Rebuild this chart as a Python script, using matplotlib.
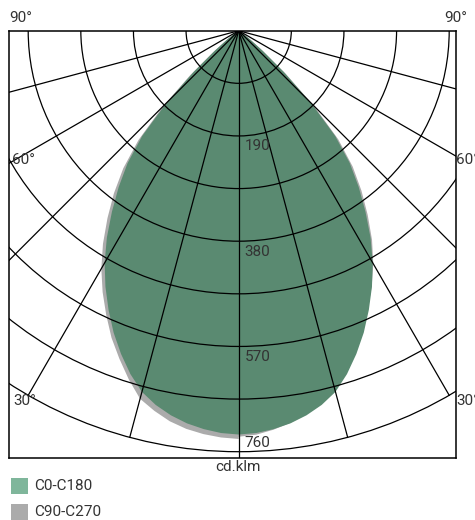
import numpy as np
import matplotlib
matplotlib.use('Agg')
import matplotlib.pyplot as plt
from matplotlib.patches import Circle, Polygon, Rectangle

plt.rcParams['font.family'] = ['Roboto', 'DejaVu Sans']

# photometric data, cd/klm against gamma angle (deg), 2.5 deg steps
gamma = [0, 2.5, 5, 7.5, 10, 12.5, 15, 17.5, 20, 22.5, 25, 27.5, 30, 32.5, 35, 37.5,
         40, 42.5, 45, 47.5, 50, 52.5, 55, 57.5, 60, 62.5, 65, 67.5, 70, 72.5, 75,
         77.5, 80, 82.5, 85, 87.5, 90]
c0_c180 = [729, 727, 722, 715, 705, 692, 675, 650, 621, 590, 556, 521, 484, 443, 399, 356,
           312, 258, 185, 110, 55, 25, 12, 6, 3, 1, 0, 0, 0, 0, 0,
           0, 0, 0, 0, 0, 0]
c90 = [733, 730, 723, 714, 703, 689, 671, 646, 617, 586, 553, 520, 486, 448, 406, 364,
       320, 266, 192, 115, 58, 27, 13, 6, 3, 1, 0, 0, 0, 0, 0,
       0, 0, 0, 0, 0, 0]
c270 = [737, 735, 731, 725, 716, 703, 688, 660, 630, 600, 566, 532, 496, 456, 413, 370,
        324, 268, 194, 118, 60, 28, 13, 7, 3, 1, 0, 0, 0, 0, 0,
        0, 0, 0, 0, 0, 0]

rings = [95, 190, 285, 380, 475, 570, 665, 760]
ring_labels = [190, 380, 570, 760]
spokes = [15, 30, 45, 60, 75]
legend_names = ['C0-C180', 'C90-C270']

green = '#5a8a71'
green_leg = '#7fb69b'
grey = '#ababab'
txt = '#333333'

W, H = 475, 520
fig = plt.figure(figsize=(W / 100, H / 100), dpi=100)

# pixel helpers for placing things
def fx(px):
    return px / W

def fy(py):
    return 1 - py / H

scale = 760 / 421.0  # cd per pixel
cx, cy = 238.7, 30.7
left, right, bottom = 9, 456, 458.3
ax = fig.add_axes([fx(left), fy(bottom), (right - left) / W, (bottom - cy) / H])
ax.set_xlim((left - cx) * scale, (right - cx) * scale)
ax.set_ylim(-(bottom - cy) * scale, 0)
ax.set_xticks([])
ax.set_yticks([])
for s in ax.spines.values():
    s.set_linewidth(1.1)
    s.set_color('black')


def outline(right_vals, left_vals):
    g = np.radians(gamma)
    r1 = np.array(right_vals, dtype=float)
    r2 = np.array(left_vals, dtype=float)
    xr = r1 * np.sin(g)
    yr = -r1 * np.cos(g)
    xl = -r2 * np.sin(g)
    yl = -r2 * np.cos(g)
    xs = np.concatenate([xr[::-1], xl])
    ys = np.concatenate([yr[::-1], yl])
    return np.column_stack([xs, ys])


ax.add_patch(Polygon(outline(c90, c270), closed=True, fc=grey, ec='none', zorder=1))
ax.add_patch(Polygon(outline(c0_c180, c0_c180), closed=True, fc=green, ec='none', zorder=2))

for r in rings:
    ax.add_patch(Circle((0, 0), r, fill=False, ec='black', lw=0.9, zorder=3))

for a in spokes:
    t = np.radians(a)
    for sgn in (1, -1):
        ax.plot([0, sgn * rings[-1] * np.sin(t)], [0, -rings[-1] * np.cos(t)],
                color='black', lw=0.9, zorder=3)
ax.axvline(0, color='black', lw=0.9, zorder=3)

# ring values
for v in ring_labels:
    if v == rings[-1]:
        ax.text(11, -v + 2 * scale, str(v), ha='left', va='bottom', fontsize=11, color=txt, zorder=4)
    else:
        ax.text(11, -v - 3.5 * scale, str(v), ha='left', va='top', fontsize=11, color=txt, zorder=4)

# angle labels
fig.text(fx(9), fy(18), '90°', ha='left', va='center', fontsize=11, color=txt)
fig.text(fx(467), fy(18), '90°', ha='right', va='center', fontsize=11, color=txt)
fig.text(fx(12), fy(160), '60°', ha='left', va='center', fontsize=11, color=txt)
fig.text(fx(456), fy(160), '60°', ha='left', va='center', fontsize=11, color=txt)
fig.text(fx(13), fy(401), '30°', ha='left', va='center', fontsize=11, color=txt)
fig.text(fx(456), fy(401), '30°', ha='left', va='center', fontsize=11, color=txt)

fig.text(fx(238), fy(467), 'cd.klm', ha='center', va='center', fontsize=11, color=txt)

# legend
for i, (name, col) in enumerate(zip(legend_names, [green_leg, grey])):
    y0 = 478 + i * 26
    fig.add_artist(Rectangle((fx(11), fy(y0 + 16)), 17 / W, 16 / H,
                             transform=fig.transFigure, fc=col, ec='none'))
    fig.text(fx(34), fy(y0 + 8), name, ha='left', va='center', fontsize=11, color=txt)

fig.savefig('out.png', dpi=100)
